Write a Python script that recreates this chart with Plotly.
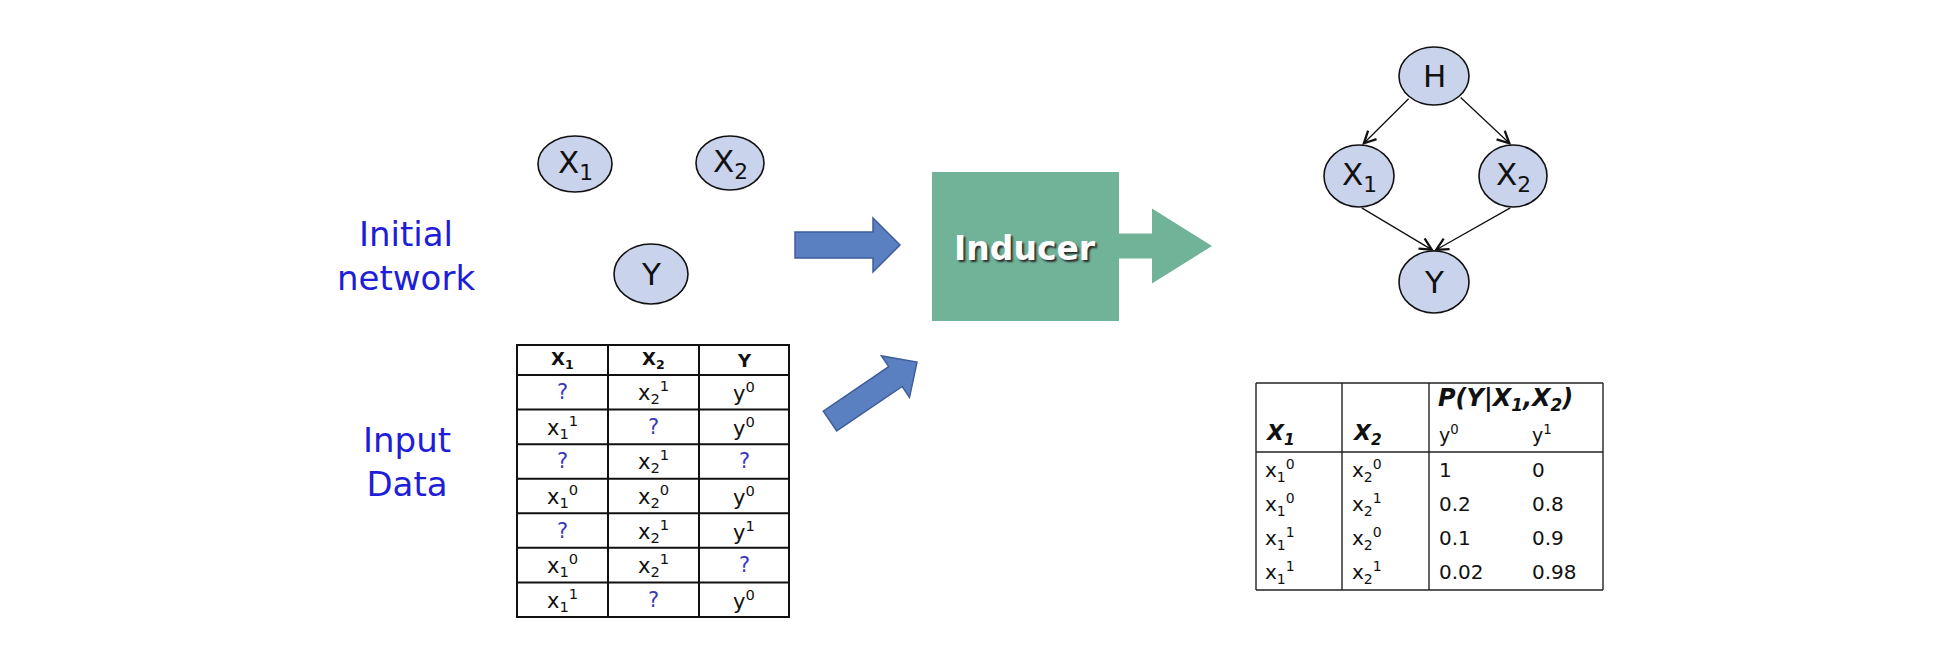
import numpy as np
import plotly.graph_objects as go

W, H = 1940, 656
PAD = 8  # default body margin of the html page
FONT = "DejaVu Sans"

# ---- data ----
side_labels = ["Initial<br>network", "Input<br>Data"]
input_header = ["X1", "X2", "Y"]
# observed values per column, "?" = missing
x1_obs = ["?", "1", "?", "0", "?", "0", "1"]
x2_obs = ["1", "?", "1", "0", "1", "1", "?"]
y_obs = ["0", "0", "?", "0", "1", "?", "0"]

cpt_x1 = ["0", "0", "1", "1"]
cpt_x2 = ["0", "1", "0", "1"]
cpt_y0 = ["1", "0.2", "0.1", "0.02"]
cpt_y1 = ["0", "0.8", "0.9", "0.98"]

initial_nodes = ["X1", "X2", "Y"]
learned_nodes = ["H", "X1", "X2", "Y"]
learned_edges = [("H", "X1"), ("H", "X2"), ("X1", "Y"), ("X2", "Y")]

# ---- layout (page pixels, y down) ----
initial_pos = {"X1": (575, 164, 37, 28), "X2": (730, 163, 34, 27), "Y": (651, 274, 37, 30)}
learned_pos = {"H": (1434, 76, 35, 29), "X1": (1359, 176, 35, 31),
               "X2": (1513, 176, 34, 31), "Y": (1434, 282, 35, 31)}
edge_angles = [(133, -85), (44, -93), (88, -90), (92, -90)]

NODE_FILL = "#C9D3EC"
GREEN = "#70B399"
BLUE_FILL = "#5B80C2"
BLUE_LINE = "#3F5E9A"
TEXT_BLUE = "#1E1ED8"
Q_BLUE = "#3A3AB8"

fig = go.Figure()
shapes = []
annotations = []


def label(name):
    if len(name) > 1:
        return f"{name[0]}<sub>{name[1:]}</sub>"
    return name


def cell_text(var, v):
    if v == "?":
        return f"<span style='color:{Q_BLUE}'>?</span>"
    if var == "Y":
        return f"y<sup>{v}</sup>"
    return f"x<sub>{var[1:]}</sub><sup>{v}</sup>"


def text(x, y, s, size, color="#111", anchor="center", **kw):
    annotations.append(dict(x=x, y=y, xref="x", yref="y", text=s, showarrow=False,
                            xanchor=anchor, yanchor="middle",
                            font=dict(family=FONT, size=size, color=color, **kw)))


def arrow_path(tail, tip, shaft_hw, head_hw, head_len):
    p0, p1 = np.array(tail, float), np.array(tip, float)
    u = (p1 - p0) / np.linalg.norm(p1 - p0)
    n = np.array([-u[1], u[0]])
    base = p1 - u * head_len
    pts = [p0 + n * shaft_hw, base + n * shaft_hw, base + n * head_hw, p1,
           base - n * head_hw, base - n * shaft_hw, p0 - n * shaft_hw]
    return "M " + " L ".join(f"{x:.1f},{y:.1f}" for x, y in pts) + " Z"


def ellipse(cx, cy, rx, ry):
    shapes.append(dict(type="circle", xref="x", yref="y", x0=cx - rx, x1=cx + rx,
                       y0=cy - ry, y1=cy + ry, fillcolor=NODE_FILL,
                       line=dict(color="#111", width=1.6), layer="above"))


def on_ellipse(node, ang):
    cx, cy, rx, ry = learned_pos[node]
    a = np.radians(ang)
    return cx + rx * np.cos(a), cy + ry * np.sin(a)


# side labels
text(406, 256, side_labels[0], 34, TEXT_BLUE)
text(407, 462, side_labels[1], 34, TEXT_BLUE)

# initial network nodes
for nd in initial_nodes:
    cx, cy, rx, ry = initial_pos[nd]
    ellipse(cx, cy, rx, ry)
    text(cx, cy, label(nd), 31)

# input data table
col_x = [517, 608, 699, 789]
head_top, head_bot = 345, 375
row_h = (617 - head_bot) / len(x1_obs)
row_y = [head_bot + row_h * i for i in range(len(x1_obs) + 1)]
for x in col_x:
    shapes.append(dict(type="line", xref="x", yref="y", x0=x, x1=x, y0=head_top, y1=row_y[-1],
                       line=dict(color="#111", width=2)))
for y in [head_top] + row_y:
    shapes.append(dict(type="line", xref="x", yref="y", x0=col_x[0] - 1, x1=col_x[-1] + 1, y0=y, y1=y,
                       line=dict(color="#111", width=2)))
for j, h in enumerate(input_header):
    cx = (col_x[j] + col_x[j + 1]) / 2
    text(cx, (head_top + head_bot) / 2, f"<b>{label(h)}</b>", 18)
for i in range(len(x1_obs)):
    cy = (row_y[i] + row_y[i + 1]) / 2
    for j, (var, col) in enumerate(zip(input_header, [x1_obs, x2_obs, y_obs])):
        cx = (col_x[j] + col_x[j + 1]) / 2
        text(cx, cy, cell_text(var, col[i]), 21)

# arrows into the inducer
shapes.append(dict(type="path", xref="x", yref="y", path=arrow_path((795, 245), (900, 245), 13, 27, 27),
                   fillcolor=BLUE_FILL, line=dict(color=BLUE_LINE, width=1.5)))
shapes.append(dict(type="path", xref="x", yref="y", path=arrow_path((830, 421), (917, 362), 12, 25, 26),
                   fillcolor=BLUE_FILL, line=dict(color=BLUE_LINE, width=1.5)))

# inducer box + output arrow
shapes.append(dict(type="path", xref="x", yref="y", path=arrow_path((1110, 246), (1212, 246), 12.5, 37.5, 60),
                   fillcolor=GREEN, line=dict(width=0)))
shapes.append(dict(type="rect", xref="x", yref="y", x0=932, x1=1119, y0=172, y1=321,
                   fillcolor=GREEN, line=dict(width=0)))
text(1025, 248, "<b>Inducer</b>", 33, "white", shadow="2px 2px 2px #2a2a2a")

# learned network
for nd in learned_nodes:
    cx, cy, rx, ry = learned_pos[nd]
    ellipse(cx, cy, rx, ry)
    text(cx, cy, label(nd), 31)
for (a, b), (aa, ab) in zip(learned_edges, edge_angles):
    x0, y0 = on_ellipse(a, aa)
    x1, y1 = on_ellipse(b, ab)
    annotations.append(dict(x=x1, y=y1, ax=x0, ay=y0, xref="x", yref="y", axref="x", ayref="y",
                            text="", showarrow=True, arrowhead=5, arrowsize=1.8, arrowwidth=1.3,
                            arrowcolor="#111", standoff=0))

# CPT table
cx_edges = [1256, 1342, 1429, 1603]
c_top, c_mid, c_bot = 383, 452, 590
for x in cx_edges:
    shapes.append(dict(type="line", xref="x", yref="y", x0=x, x1=x, y0=c_top, y1=c_bot,
                       line=dict(color="#222", width=1.4)))
for y in [c_top, c_mid, c_bot]:
    shapes.append(dict(type="line", xref="x", yref="y", x0=cx_edges[0], x1=cx_edges[-1], y0=y, y1=y,
                       line=dict(color="#222", width=1.4)))
text(1505, 399, "<b><i>P(Y|X<sub>1</sub>,X<sub>2</sub>)</i></b>", 24)
text(1263, 434, "<b><i>X<sub>1</sub></i></b>", 22, anchor="left")
text(1350, 434, "<b><i>X<sub>2</sub></i></b>", 22, anchor="left")
text(1437, 434, "y<sup>0</sup>", 19, anchor="left")
text(1530, 434, "y<sup>1</sup>", 19, anchor="left")
cpt_row_h = 34
for i in range(len(cpt_y0)):
    cy = 470 + cpt_row_h * i
    text(1263, cy, cell_text("X1", cpt_x1[i]), 20, anchor="left")
    text(1350, cy, cell_text("X2", cpt_x2[i]), 20, anchor="left")
    text(1437, cy, cpt_y0[i], 20, anchor="left")
    text(1530, cy, cpt_y1[i], 20, anchor="left")

# figure sits inside the page's 8px body margin; offset ranges so coordinates are page pixels
fig.update_layout(
    width=W - 2 * PAD, height=H - 2 * PAD, margin=dict(l=0, r=0, t=0, b=0),
    paper_bgcolor="white", plot_bgcolor="white",
    xaxis=dict(range=[PAD, W - PAD], visible=False, fixedrange=True),
    yaxis=dict(range=[H - PAD, PAD], visible=False, fixedrange=True),
    shapes=shapes, annotations=annotations, showlegend=False,
)
fig.write_html("out.html", config={"displayModeBar": False})
